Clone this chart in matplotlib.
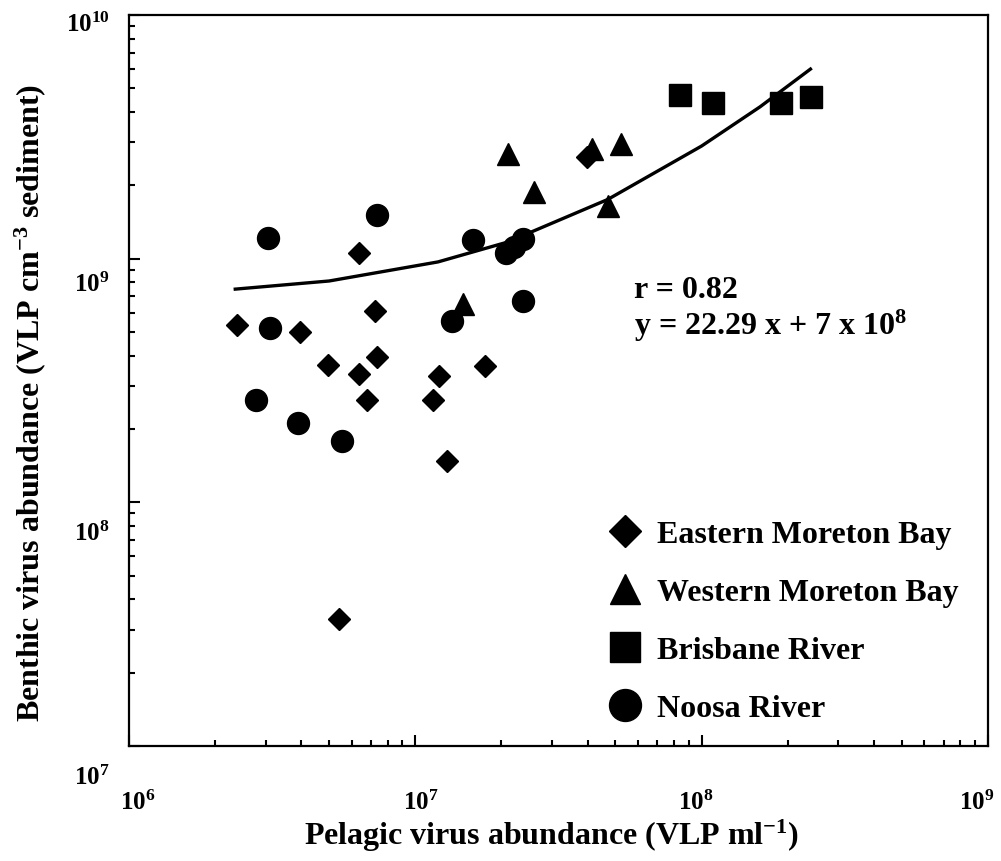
import matplotlib
matplotlib.use("Agg")
import matplotlib.pyplot as plt
from matplotlib.ticker import LogLocator, NullFormatter
from matplotlib.lines import Line2D

plt.rcParams['font.family'] = ['Liberation Serif', 'DejaVu Serif']
plt.rcParams['font.weight'] = 'bold'
plt.rcParams['mathtext.fontset'] = 'custom'
plt.rcParams['mathtext.rm'] = 'Liberation Serif:bold'
plt.rcParams['mathtext.it'] = 'Liberation Serif:bold'
plt.rcParams['mathtext.bf'] = 'Liberation Serif:bold'

# data
east_x = [2.38e6, 3.95e6, 6.35e6, 7.23e6, 4.95e6, 7.35e6, 6.35e6, 6.78e6,
          1.21e7, 1.75e7, 1.15e7, 1.29e7, 5.41e6, 3.98e7]
east_y = [5.35e8, 5.0e8, 1.055e9, 6.1e8, 3.66e8, 3.95e8, 3.37e8, 2.63e8,
          3.30e8, 3.63e8, 2.63e8, 1.48e8, 3.32e7, 2.61e9]

west_x = [1.47e7, 2.11e7, 2.60e7, 4.14e7, 5.22e7, 4.71e7]
west_y = [6.52e8, 2.69e9, 1.88e9, 2.82e9, 2.96e9, 1.65e9]

bris_x = [8.41e7, 1.10e8, 1.89e8, 2.41e8]
bris_y = [4.69e9, 4.35e9, 4.35e9, 4.61e9]

noosa_x = [3.06e6, 7.35e6, 1.59e7, 2.07e7, 2.21e7, 2.38e7, 3.10e6, 1.34e7,
           2.38e7, 2.78e6, 3.89e6, 5.55e6]
noosa_y = [1.22e9, 1.51e9, 1.19e9, 1.06e9, 1.12e9, 1.21e9, 5.20e8, 5.55e8,
           6.70e8, 2.63e8, 2.12e8, 1.79e8]

# regression line as drawn
line_x = [2.35e6, 5.0e6, 1.2e7, 2.1e7, 4.7e7, 1.0e8, 1.6e8, 2.4e8]
line_y = [7.5e8, 8.1e8, 9.7e8, 1.17e9, 1.75e9, 2.9e9, 4.2e9, 6.0e9]

xticks = [1e6, 1e7, 1e8, 1e9]
xticklabels = ['$10^{6}$', '$10^{7}$', '$10^{8}$', '$10^{9}$']
yticks = [1e7, 1e8, 1e9, 1e10]
yticklabels = ['$10^{7}$', '$10^{8}$', '$10^{9}$', '$10^{10}$']

labels = ['Eastern Moreton Bay', 'Western Moreton Bay', 'Brisbane River', 'Noosa River']

fig = plt.figure(figsize=(10.01, 8.62), dpi=100)
ax = fig.add_axes([0.1289, 0.1334, 0.858, 0.848])

ms = 15.8
ax.plot(line_x, line_y, '-', color='black', lw=2.4, zorder=2)
ax.plot(east_x, east_y, 'D', color='black', ms=11.2, ls='none', zorder=3)
ax.plot(west_x, west_y, '^', color='black', ms=ms, ls='none', zorder=3)
ax.plot(bris_x, bris_y, 's', color='black', ms=ms, ls='none', zorder=3)
ax.plot(noosa_x, noosa_y, 'o', color='black', ms=ms, ls='none', zorder=3)

ax.set_xscale('log')
ax.set_yscale('log')
ax.set_xlim(1e6, 1e9)
ax.set_ylim(1e7, 1e10)

ax.set_xticks(xticks)
ax.set_yticks(yticks)
ax.xaxis.set_minor_locator(LogLocator(base=10, subs=range(2, 10)))
ax.yaxis.set_minor_locator(LogLocator(base=10, subs=range(2, 10)))
ax.xaxis.set_minor_formatter(NullFormatter())
ax.yaxis.set_minor_formatter(NullFormatter())
ax.tick_params(which='both', direction='in', top=False, right=False,
               labelbottom=False, labelleft=False, width=1.5, color='black')
ax.tick_params(which='major', length=8)
ax.tick_params(which='minor', length=4.5)
for s in ax.spines.values():
    s.set_linewidth(1.6)

# tick labels sit a bit off their ticks in the original
xoffs = [6, 4, -4, -8]
for v, lab, dx in zip(xticks, xticklabels, xoffs):
    ax.annotate(lab, xy=(v, 0), xycoords=('data', 'axes fraction'),
                xytext=(dx, -40), textcoords='offset points',
                ha='center', va='center', fontsize=18, annotation_clip=False)
yoffs = [-22, -22, -18, -6]
for v, lab, dy in zip(yticks, yticklabels, yoffs):
    ax.annotate(lab, xy=(0, v), xycoords=('axes fraction', 'data'),
                xytext=(-14, dy), textcoords='offset points',
                ha='right', va='center', fontsize=18, annotation_clip=False)

fig.text(0.551, 0.030, 'Pelagic virus abundance (VLP ml$^{-1}$)',
         ha='center', va='center', fontsize=23, fontweight='bold')
fig.text(0.030, 0.532, 'Benthic virus abundance (VLP cm$^{-3}$ sediment)',
         ha='center', va='center', rotation=90, fontsize=23, fontweight='bold')

ax.text(0.5874, 0.614, 'r = 0.82', transform=ax.transAxes,
        fontsize=23, fontweight='bold', ha='left', va='baseline')
ax.text(0.5874, 0.564, 'y = 22.29 x + 7 x 10$^{8}$', transform=ax.transAxes,
        fontsize=23, fontweight='bold', ha='left', va='baseline')

handles = [
    Line2D([], [], marker='D', color='black', ls='none', ms=16),
    Line2D([], [], marker='^', color='black', ls='none', ms=22),
    Line2D([], [], marker='s', color='black', ls='none', ms=22),
    Line2D([], [], marker='o', color='black', ls='none', ms=23),
]
leg = ax.legend(handles, labels, loc='upper left',
                bbox_to_anchor=(0.610, 0.396), bbox_transform=fig.transFigure,
                frameon=False, fontsize=23, handlelength=0.9,
                handletextpad=0.55, labelspacing=0.9, borderpad=0,
                borderaxespad=0)
for t in leg.get_texts():
    t.set_fontweight('bold')

fig.savefig('out.png', dpi=100)
